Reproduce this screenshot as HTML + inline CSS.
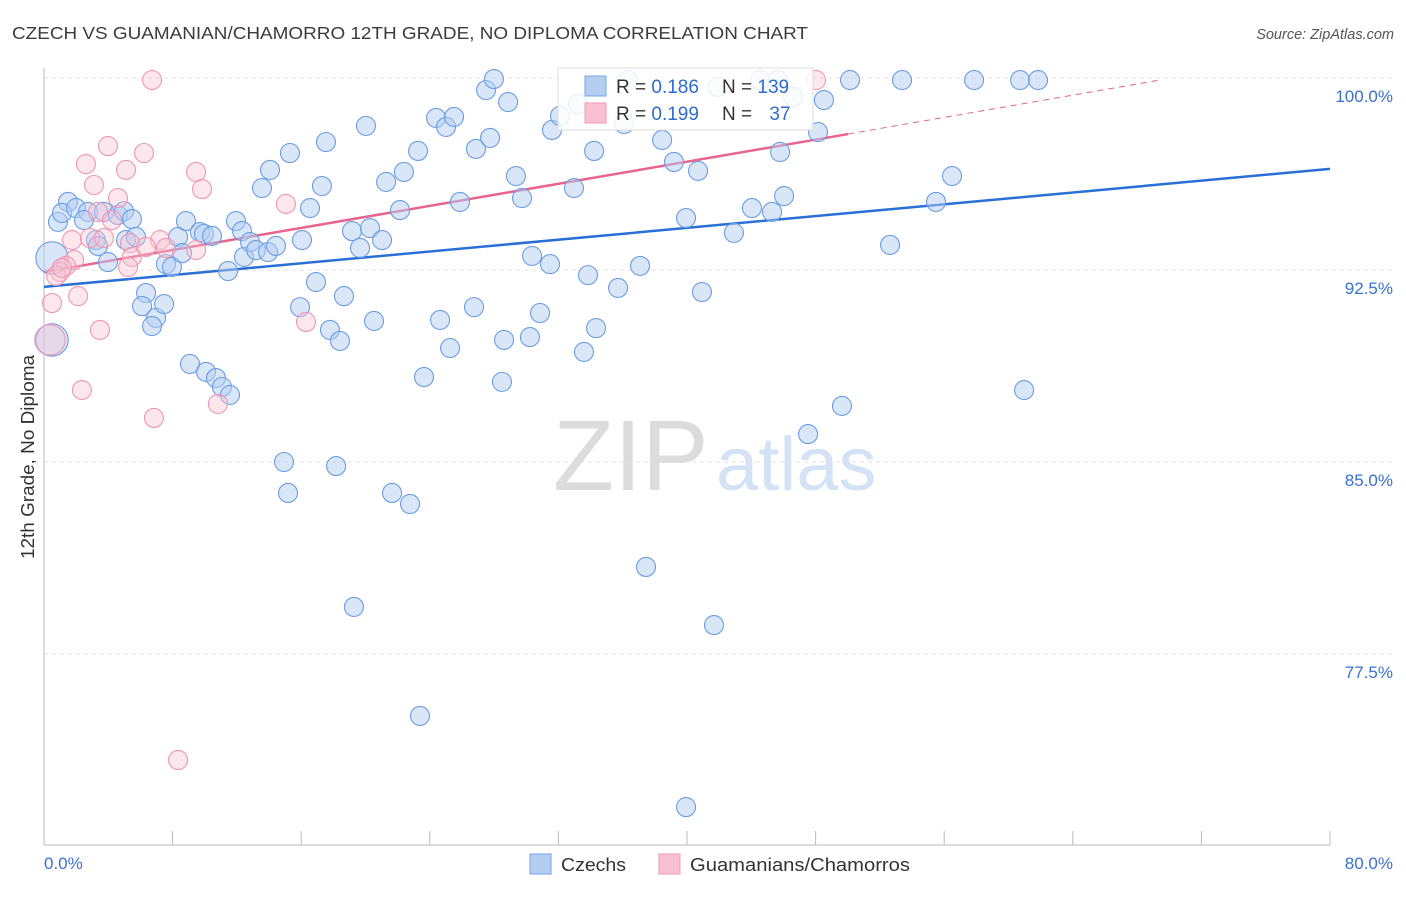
<!DOCTYPE html>
<html><head><meta charset="utf-8">
<style>
body{margin:0;background:#fff;font-family:"Liberation Sans",sans-serif;}
svg text{font-family:"Liberation Sans",sans-serif;}
</style></head>
<body>
<svg id="chart" width="1406" height="892" viewBox="0 0 1406 892" xmlns="http://www.w3.org/2000/svg">
<text x="12" y="39" font-size="17.5" fill="#3c3c3c" textLength="796" lengthAdjust="spacingAndGlyphs">CZECH VS GUAMANIAN/CHAMORRO 12TH GRADE, NO DIPLOMA CORRELATION CHART</text>
<text x="1394" y="39" font-size="14.5" fill="#555" font-style="italic" text-anchor="end">Source: ZipAtlas.com</text>
<g>
<text x="553" y="490" font-size="100" fill="#dcdcdc" font-family="Liberation Serif, serif">ZIP</text>
<text x="716" y="490" font-size="76" fill="#d3e2f5">atlas</text>
</g>
<g id="grid"></g>
<g id="axes"></g>
<g id="lines"></g>
<g id="pts"></g>
<text transform="translate(34,457) rotate(-90)" font-size="18" fill="#333" text-anchor="middle" textLength="204" lengthAdjust="spacingAndGlyphs">12th Grade, No Diploma</text>
<g>
<rect x="558" y="68" width="255" height="62" fill="#fff" fill-opacity="0.85" stroke="#ddd"/>
<rect x="585" y="76" width="21" height="20" fill="#b4cef2" stroke="#7aa6e4"/>
<rect x="585" y="103" width="21" height="20" fill="#f8c0d0" stroke="#f19ab4"/>
<text x="616" y="93" font-size="19" fill="#333">R = <tspan fill="#2f6bd0">0.186</tspan></text>
<text x="722" y="93" font-size="19" fill="#333">N = <tspan fill="#2f6bd0">139</tspan></text>
<text x="616" y="120" font-size="19" fill="#333">R = <tspan fill="#2f6bd0">0.199</tspan></text>
<text x="722" y="120" font-size="19" fill="#333">N = <tspan fill="#2f6bd0" dx="12">37</tspan></text>
</g>
<g>
<rect x="530" y="854" width="21" height="20" fill="#b4cef2" stroke="#7aa6e4"/>
<text x="561" y="871" font-size="18" fill="#333" textLength="65" lengthAdjust="spacingAndGlyphs">Czechs</text>
<rect x="659" y="854" width="21" height="20" fill="#f8c0d0" stroke="#f19ab4"/>
<text x="690" y="871" font-size="18" fill="#333" textLength="220" lengthAdjust="spacingAndGlyphs">Guamanians/Chamorros</text>
</g>
</svg>
<script>
const czechX=[0.50,0.50,0.87,1.49,1.12,1.99,2.74,2.49,3.23,3.36,3.98,3.73,4.60,4.98,5.47,5.10,5.72,6.35,6.10,6.97,6.72,7.47,7.59,7.96,8.34,8.59,8.83,9.08,9.70,9.95,10.45,10.08,10.70,11.07,11.57,11.45,11.94,12.32,12.44,12.82,13.19,13.94,14.43,13.56,14.06,15.30,14.93,15.18,15.93,16.05,16.55,16.92,17.29,17.54,17.79,18.41,18.17,18.66,19.16,19.66,19.28,20.03,20.28,20.53,21.03,21.28,21.65,22.15,22.39,22.77,23.27,23.39,23.64,24.39,24.64,25.01,25.26,25.51,25.88,26.75,26.87,27.50,27.75,27.99,28.49,28.62,28.87,29.36,29.74,30.23,30.36,30.86,31.48,31.60,32.10,32.97,33.22,33.59,33.84,34.22,34.34,35.71,36.08,36.33,37.08,37.45,38.45,39.19,39.94,39.94,40.69,40.93,41.68,41.93,42.92,44.04,44.54,45.29,45.79,46.04,47.53,48.15,48.52,49.64,50.14,52.63,53.38,55.49,56.49,57.86,60.72,60.97,61.84,46.60,45.66];
const czechY=[92.97,89.77,94.38,95.16,94.73,94.92,94.77,94.45,93.67,93.44,92.81,94.77,94.65,94.80,94.49,93.67,93.79,91.60,91.09,90.63,90.31,91.17,92.73,92.62,93.79,93.16,94.41,88.83,93.98,93.91,93.83,88.52,88.28,87.93,87.62,92.46,94.41,94.02,93.01,93.59,93.28,93.20,93.44,95.70,96.41,97.07,85.00,83.79,91.05,93.67,94.92,92.03,95.78,97.50,90.16,89.73,84.84,91.48,94.02,93.36,79.34,98.13,94.14,90.51,93.67,95.94,83.79,94.84,96.33,83.36,97.15,75.08,88.32,98.44,90.55,98.09,89.45,98.48,95.16,91.05,97.23,99.53,97.66,99.96,88.13,89.77,99.06,96.17,95.31,89.88,93.05,90.82,92.73,97.97,98.52,95.70,98.98,89.30,92.30,97.15,90.23,91.80,98.20,99.92,92.66,80.90,97.58,96.72,94.53,71.52,96.37,91.64,78.63,99.65,93.95,94.92,99.92,94.77,97.11,95.39,86.09,97.89,99.14,87.19,99.92,93.48,99.92,95.16,96.17,99.92,99.92,87.81,99.92,99.26,99.92];
const czechSize=[2,2];
const guamX=[6.72,2.61,3.98,3.11,5.10,4.60,6.22,9.46,9.83,15.05,3.36,4.23,1.74,2.86,3.73,5.35,7.22,7.59,9.46,5.47,5.23,1.87,1.37,1.00,0.75,2.12,0.50,3.48,0.37,2.36,6.84,10.82,16.30,8.34,48.03,6.35,1.12];
const guamY=[99.92,96.64,97.34,95.82,96.41,95.31,97.07,96.33,95.66,95.08,94.77,94.45,93.67,93.75,93.75,93.55,93.67,93.36,93.28,93.01,92.62,92.89,92.66,92.42,92.27,91.48,91.21,90.16,89.77,87.81,86.72,87.27,90.47,73.36,99.92,93.40,92.58];
const guamSize=[1,1,1,1,1,1,1,1,1,1,1,1,1,1,1,1,1,1,1,1,1,1,1,1,1,1,1,1,1.6];
const czechTrend=[91.84,96.45];
const guamTrend=[92.42,97.81,99.92];
const guamTrendX=[0,50.02,69.42];
const yTicks=[100,92.5,85,77.5];
const yTickLabels=["100.0%","92.5%","85.0%","77.5%"];
const xTickLabels=["0.0%","80.0%"];

const X0=44,X1=1330,Y100=78,PXPER=192/7.5;
function xs(v){return X0+(v/80)*(X1-X0);}
function ys(v){return Y100+(100-v)*PXPER;}
const NS="http://www.w3.org/2000/svg";
function mk(tag,attrs,parent){const e=document.createElementNS(NS,tag);for(const k in attrs)e.setAttribute(k,attrs[k]);parent.appendChild(e);return e;}
const grid=document.getElementById('grid'),axes=document.getElementById('axes'),lines=document.getElementById('lines'),pts=document.getElementById('pts');
yTicks.forEach((t,i)=>{
  const l=mk('line',{x1:X0,x2:1394,y1:ys(t),y2:ys(t),stroke:'#e2e2e2','stroke-dasharray':'4,4'},grid);
  
  
  const tx=mk('text',{x:1393,y:ys(t)+24,'font-size':17,fill:'#3a70d0','text-anchor':'end'},axes);
  tx.textContent=yTickLabels[i];
  
  
});
const ax=mk('line',{x1:X0,x2:X1,y1:845,y2:845,stroke:'#bbb'},axes);


const ay=mk('line',{x1:X0,x2:X0,y1:68,y2:845,stroke:'#bbb'},axes);


for(let i=0;i<=10;i++){
  const t=mk('line',{x1:xs(i*8),x2:xs(i*8),y1:831,y2:845,stroke:'#bbb'},axes);
  
  
}
const xl0=mk('text',{x:44,y:869,'font-size':17,fill:'#3a70d0'},axes);xl0.textContent=xTickLabels[0];


const xl1=mk('text',{x:1393,y:869,'font-size':17,fill:'#3a70d0','text-anchor':'end'},axes);xl1.textContent=xTickLabels[1];



czechX.forEach((x,i)=>{
  const r=9.5*(czechSize[i]||1)*(czechSize[i]?0.85:1);
  const c=mk('circle',{cx:xs(x),cy:ys(czechY[i]),r:r,fill:'#b4cef2','fill-opacity':0.5,stroke:'#6a9de3','stroke-width':1.1},pts);
  
  
});
guamX.forEach((x,i)=>{
  const r=9.5*(guamSize[i]||1);
  const c=mk('circle',{cx:xs(x),cy:ys(guamY[i]),r:r,fill:'#f8c3d3','fill-opacity':0.4,stroke:'#f096b2','stroke-width':1.1},pts);
  
  
});
const bl=mk('line',{x1:xs(0),y1:ys(czechTrend[0]),x2:xs(80),y2:ys(czechTrend[1]),stroke:'#2a6fd6','stroke-width':2.5},lines);


const pl=mk('line',{x1:xs(guamTrendX[0]),y1:ys(guamTrend[0]),x2:xs(guamTrendX[1]),y2:ys(guamTrend[1]),stroke:'#e8638e','stroke-width':2.5},lines);


const pd=mk('line',{x1:xs(guamTrendX[1]),y1:ys(guamTrend[1]),x2:xs(guamTrendX[2]),y2:ys(guamTrend[2]),stroke:'#e8638e','stroke-width':1,'stroke-dasharray':'6,5'},lines);


</script>
</body></html>
